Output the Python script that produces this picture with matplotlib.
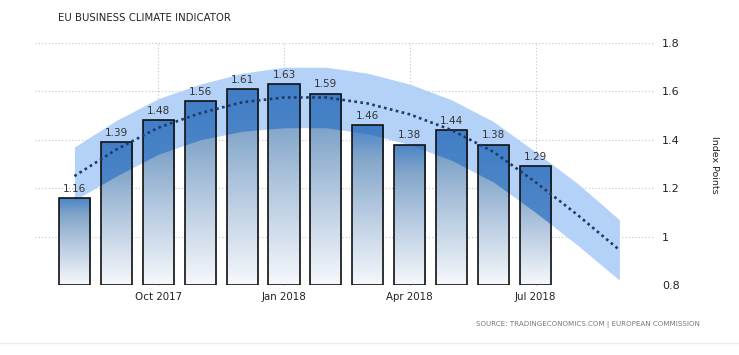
import matplotlib.pyplot as plt
import numpy as np
from matplotlib.colors import LinearSegmentedColormap
from matplotlib.patches import Rectangle

months = ["Aug 2017", "Sep 2017", "Oct 2017", "Nov 2017", "Dec 2017", "Jan 2018",
          "Feb 2018", "Mar 2018", "Apr 2018", "May 2018", "Jun 2018", "Jul 2018"]
values = [1.16, 1.39, 1.48, 1.56, 1.61, 1.63, 1.59, 1.46, 1.38, 1.44, 1.38, 1.29]
# trend line + band (last two points are forecast months)
trend = [1.25, 1.36, 1.45, 1.51, 1.555, 1.575, 1.575, 1.55, 1.505, 1.44, 1.35, 1.225, 1.09, 0.945]
band_hi = [1.37, 1.48, 1.57, 1.63, 1.675, 1.70, 1.70, 1.675, 1.63, 1.565, 1.475, 1.35, 1.22, 1.07]
band_lo = [1.15, 1.25, 1.34, 1.40, 1.435, 1.45, 1.45, 1.425, 1.38, 1.315, 1.225, 1.10, 0.965, 0.82]
tick_labels = ["Oct 2017", "Jan 2018", "Apr 2018", "Jul 2018"]

x = np.arange(len(values))
xt = np.arange(len(trend))
tick_pos = [months.index(t) for t in tick_labels]

fig = plt.figure(figsize=(7.39, 3.55), dpi=100)
ax = fig.add_axes([35 / 739, 1 - 285 / 355, 620 / 739, 242 / 355])
ax.set_xlim(-0.94, 13.85)
ax.set_ylim(0.8, 1.8)

# light band behind the bars
ax.fill_between(xt, band_lo, band_hi, color="#b4d2f7", linewidth=0, zorder=1)

w = 0.74
cmap = LinearSegmentedColormap.from_list(
    "bar", [(0, "#f6f8fb"), (0.5, "#b0c6de"), (0.8, "#82a5c9"), (1, "#4a84c8")])
grad = np.linspace(0, 1, 256).reshape(-1, 1)
for xi, v in zip(x, values):
    clip = Rectangle((xi - w / 2, 0.8), w, v - 0.8, transform=ax.transData)
    im = ax.imshow(grad, extent=[xi - w / 2, xi + w / 2, 0.8, v], origin="lower",
                   cmap=cmap, aspect="auto", zorder=2)
    im.set_clip_path(clip)
    # darker band where it crosses the bar
    dark = ax.fill_between(xt, band_lo, band_hi, color="#3f7dc6", alpha=0.85,
                           linewidth=0, zorder=2.5)
    dark.set_clip_path(clip)
    ax.add_patch(Rectangle((xi - w / 2, 0.8), w, v - 0.8, fill=False,
                           edgecolor="#111111", linewidth=1.2, zorder=4))
    ax.text(xi, v + 0.018, f"{v:.2f}", ha="center", va="bottom", fontsize=7.5,
            color="#333333", zorder=6)

ax.plot(xt, trend, linestyle=(0, (1, 1.3)), color="#1d3a68", linewidth=1.9, zorder=5)

ax.set_yticks([0.8, 1, 1.2, 1.4, 1.6, 1.8])
ax.set_yticklabels(["0.8", "1", "1.2", "1.4", "1.6", "1.8"])
ax.yaxis.tick_right()
ax.tick_params(axis="y", length=0, pad=5, labelsize=8, labelcolor="#222222")
ax.set_xticks(tick_pos)
ax.set_xticklabels(tick_labels)
ax.tick_params(axis="x", length=4, color="#aaaaaa", direction="in", pad=5,
               labelsize=7.4, labelcolor="#222222")
ax.grid(True, linestyle=(0, (1, 2)), color="#c4c4c4", linewidth=0.8, zorder=0)
ax.set_axisbelow(True)
for s in ax.spines.values():
    s.set_visible(False)

fig.text(715 / 739, 1 - 165 / 355, "Index Points", rotation=-90, ha="center", va="center",
         fontsize=6.8, color="#222222")
fig.text(58 / 739, 1 - 18 / 355, "EU BUSINESS CLIMATE INDICATOR", ha="left", va="center",
         fontsize=7.3, color="#222222")
fig.text(700 / 739, 1 - 325 / 355, "SOURCE: TRADINGECONOMICS.COM | EUROPEAN COMMISSION",
         ha="right", va="center", fontsize=5.1, color="#777777")
fig.add_artist(plt.Line2D([0, 1], [1 - 343 / 355] * 2, color="#eeeeee", linewidth=1))

fig.savefig("out.png", dpi=100)
